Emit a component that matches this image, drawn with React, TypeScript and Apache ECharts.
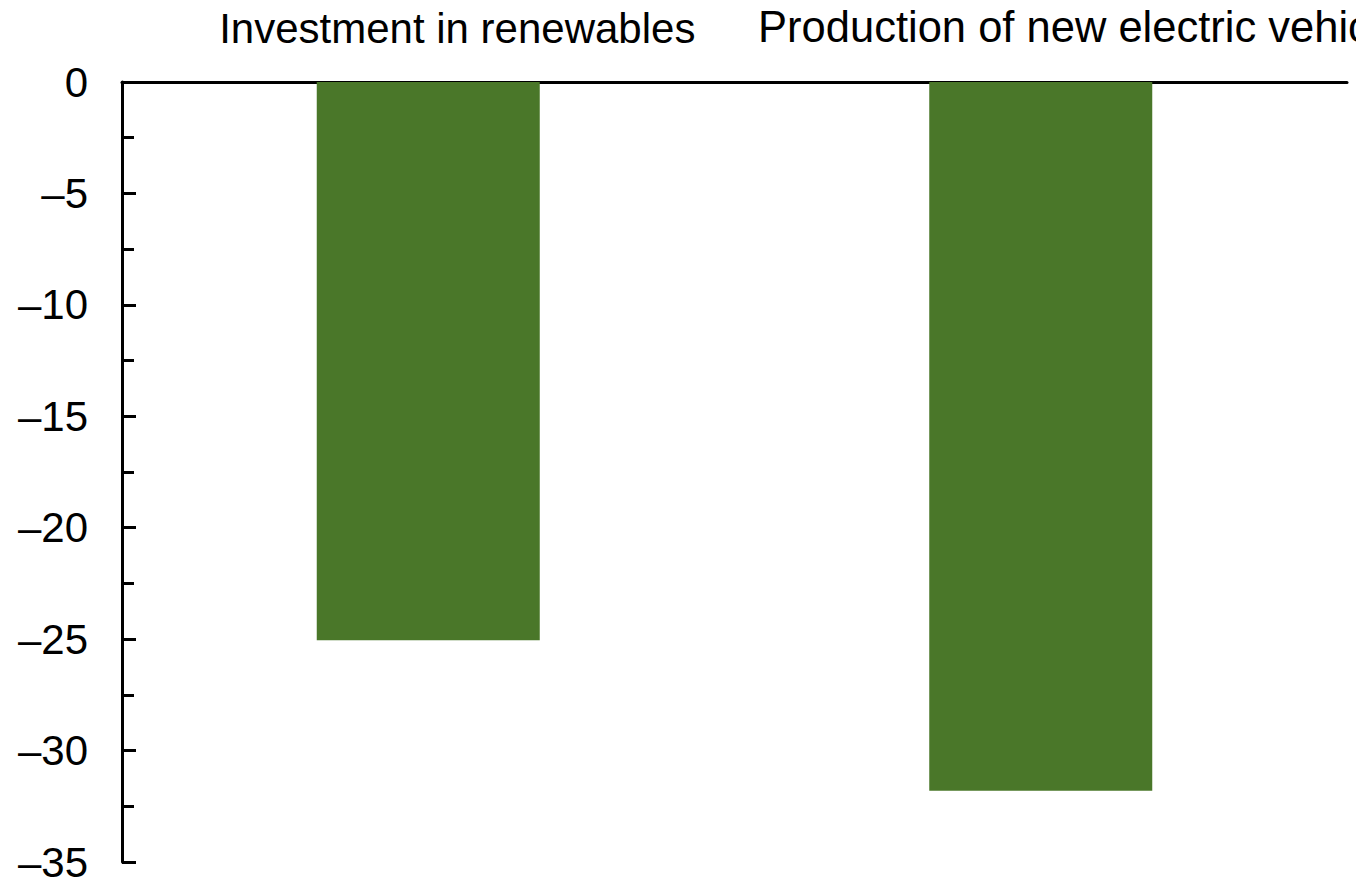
import React, { useEffect, useRef } from "react";
import * as echarts from "echarts";

const categories = ["Investment in renewables", "Production of new electric vehicles"];
const values = [-25.05, -31.8];
const yMin = -35;
const yMax = 0;
const yInterval = 5;

export default function App() {
  const ref = useRef<HTMLDivElement>(null);
  useEffect(() => {
    if (!ref.current) return;
    const chart = echarts.init(ref.current, null, { renderer: "svg" });
    const font = "Liberation Sans, Arial, sans-serif";
    chart.setOption({
      animation: false,
      backgroundColor: "#ffffff",
      grid: { left: 122, right: 9, top: 82, bottom: 21, containLabel: false, outerBoundsMode: "none" },
      xAxis: {
        type: "category",
        position: "top",
        data: categories,
        axisLine: { show: true, lineStyle: { color: "#000", width: 3 } },
        axisTick: { show: false },
        axisLabel: {
          color: "#000",
          fontFamily: font,
          fontSize: 42,
          margin: 33,
          interval: 0,
          formatter: (v: string, i: number) => (i === 0 ? `{a|${v}}` : `{b|${v}}`),
          rich: {
            a: { color: "#000", fontFamily: font, fontSize: 42, padding: [0, 0, 0, 58] },
            b: { color: "#000", fontFamily: font, fontSize: 43.5, padding: [0, 0, 0, 102] },
          },
        },
      },
      yAxis: {
        type: "value",
        min: yMin,
        max: yMax,
        interval: yInterval,
        axisLine: { show: true, lineStyle: { color: "#000", width: 3 } },
        axisTick: { show: true, inside: true, length: 14, lineStyle: { color: "#000", width: 3 } },
        minorTick: { show: true, splitNumber: 2, length: 12, lineStyle: { color: "#000", width: 3 } },
        splitLine: { show: false },
        axisLabel: {
          color: "#000",
          fontFamily: font,
          fontSize: 42,
          margin: 34,
          formatter: (v: number) => (v < 0 ? "\u2013" + Math.abs(v) : String(v)),
        },
      },
      series: [
        {
          type: "bar",
          data: values,
          barWidth: 223,
          itemStyle: { color: "#4a7729" },
        },
      ],
    });
    return () => chart.dispose();
  }, []);
  return (
    <div
      ref={ref}
      style={{ position: "fixed", left: 0, top: 0, width: 1356, height: 883, background: "#fff" }}
    />
  );
}
